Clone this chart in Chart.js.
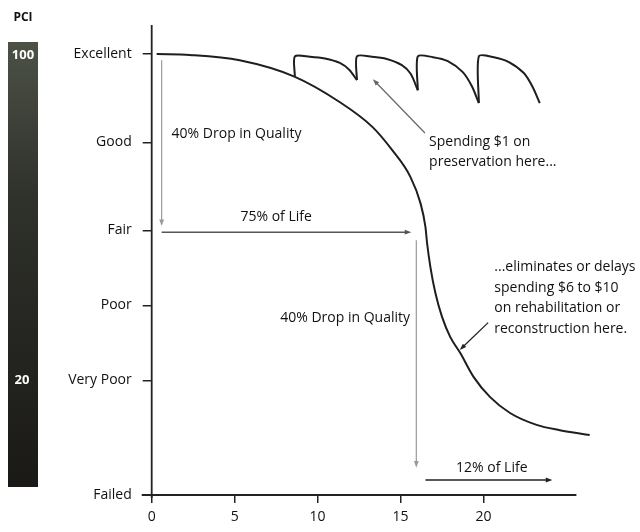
<!DOCTYPE html>
<html>
<head>
<meta charset="utf-8">
<script src="https://cdn.jsdelivr.net/npm/chart.js@4.4.1/dist/chart.umd.min.js"></script>
<style>
  html, body { margin: 0; padding: 0; background: #fff; }
  #wrap { width: 640px; height: 532px; position: relative; }
</style>
</head>
<body>
<div id="wrap"><canvas id="pciChart"></canvas></div>
<script>
// Pavement condition over the life of a road

// condition ratings on the y axis (PCI value -> label)
const ratingValues = [0, 26, 43, 60, 80, 100];
const ratingLabels = ['Failed', 'Very Poor', 'Poor', 'Fair', 'Good', 'Excellent'];
const yearTicks = [0, 5, 10, 15, 20];

// main deterioration curve (year, PCI)
const curveYears = [0.3, 2.3, 5.3, 8.6, 11.3, 13.3, 14.5, 15.6, 16.2, 16.5, 16.6, 16.8, 17.1, 17.5, 18.0, 18.6, 19.4, 20.4, 21.6, 23.2, 24.6, 26.4];
const curvePCI   = [100, 99.8, 98.6, 94.9, 89.2, 83.5, 78.2, 72.1, 66.2, 60.8, 57.1, 51.7, 45.8, 40.4, 35.8, 32.2, 26.8, 22.2, 18.6, 15.9, 14.7, 13.6];

// preservation treatments (each tooth restores the road to near-excellent)
const toothYears = [
    [8.63, 8.63, 9.53, 10.44, 11.34, 11.92, 12.37],
    [12.37, 12.37, 13.27, 14.17, 15.08, 15.62, 16.04],
    [16.04, 16.04, 16.95, 17.85, 18.75, 19.3, 19.72],
    [19.72, 19.72, 20.62, 21.53, 22.43, 22.97, 23.39]
];
const toothPCI = [
    [94.9, 99.5, 99.4, 99.0, 98.0, 96.4, 94.1],
    [94.1, 99.5, 99.4, 98.9, 97.5, 95.5, 91.8],
    [91.8, 99.5, 99.3, 98.4, 95.9, 92.7, 88.9],
    [88.9, 99.5, 99.3, 98.2, 95.7, 92.5, 88.9]
];

// arrows in chart units: [fromYear, fromPCI, toYear, toPCI, colour, width]
const arrows = [
    [0.6, 98.6, 0.6, 61.0, '#9a9a9a', 1.2],
    [0.6, 59.6, 15.65, 59.6, '#555', 1.4],
    [15.95, 57.8, 15.95, 6.2, '#9a9a9a', 1.2],
    [16.5, 3.4, 24.15, 3.4, '#222', 1.4],
    [16.47, 82.1, 13.33, 94.3, '#666', 1.2],
    [20.28, 39.1, 18.57, 32.9, '#222', 1.3]
];

// text notes in chart units: [year, PCI, align, lines]
const notes = [
    [1.2, 81.9, 'left', ['40% Drop in Quality']],
    [7.5, 63.1, 'center', ['75% of Life']],
    [15.57, 40.1, 'right', ['40% Drop in Quality']],
    [20.5, 6.1, 'center', ['12% of Life']],
    [16.72, 80.1, 'left', ['Spending $1 on', 'preservation here...']],
    [20.65, 51.7, 'left', ['...eliminates or delays', 'spending $6 to $10', 'on rehabilitation or', 'reconstruction here.']]
];

const FONT = '"Open Sans", "DejaVu Sans", sans-serif';

function toPoints(xs, ys) {
    return xs.map((x, i) => ({ x: x, y: ys[i] }));
}

function drawArrow(ctx, x1, y1, x2, y2, color, width) {
    const ang = Math.atan2(y2 - y1, x2 - x1);
    const head = 7;
    ctx.save();
    ctx.strokeStyle = color;
    ctx.fillStyle = color;
    ctx.lineWidth = width;
    ctx.beginPath();
    ctx.moveTo(x1, y1);
    ctx.lineTo(x2 - Math.cos(ang) * head * 0.8, y2 - Math.sin(ang) * head * 0.8);
    ctx.stroke();
    ctx.beginPath();
    ctx.moveTo(x2, y2);
    ctx.lineTo(x2 - head * Math.cos(ang - 0.35), y2 - head * Math.sin(ang - 0.35));
    ctx.lineTo(x2 - head * Math.cos(ang + 0.35), y2 - head * Math.sin(ang + 0.35));
    ctx.closePath();
    ctx.fill();
    ctx.restore();
}

// PCI scale bar at the far left
const pciBarPlugin = {
    id: 'pciBar',
    beforeDraw(chart) {
        const ctx = chart.ctx;
        const y = chart.scales.y;
        ctx.save();
        const g = ctx.createLinearGradient(0, 42, 0, 487);
        g.addColorStop(0, '#4c5146');
        g.addColorStop(0.35, '#2f312b');
        g.addColorStop(1, '#1a1916');
        ctx.fillStyle = g;
        ctx.fillRect(8, 42, 30, 445);
        ctx.fillStyle = '#111';
        ctx.font = 'bold 12px ' + FONT;
        ctx.textAlign = 'center';
        ctx.textBaseline = 'middle';
        ctx.fillText('PCI', 23, 18);
        ctx.fillStyle = '#fff';
        ctx.font = 'bold 13px ' + FONT;
        ctx.fillText('100', 23, y.getPixelForValue(100) + 1);
        ctx.fillText('20', 22, y.getPixelForValue(26));
        ctx.restore();
    }
};

// axis lines, arrows and notes
const notesPlugin = {
    id: 'notes',
    afterDraw(chart) {
        const ctx = chart.ctx;
        const xs = chart.scales.x;
        const ys = chart.scales.y;
        const px = v => xs.getPixelForValue(v);
        const py = v => ys.getPixelForValue(v);

        ctx.save();
        ctx.strokeStyle = '#222';
        ctx.lineWidth = 1.8;
        ctx.beginPath();
        ctx.moveTo(px(0), py(106.6));
        ctx.lineTo(px(0), py(-0.6));
        ctx.moveTo(px(-0.6), py(0));
        ctx.lineTo(px(25.6), py(0));
        ctx.stroke();
        ctx.restore();

        arrows.forEach(a => drawArrow(ctx, px(a[0]), py(a[1]), px(a[2]), py(a[3]), a[4], a[5]));

        ctx.save();
        ctx.fillStyle = '#111';
        ctx.font = '14px ' + FONT;
        ctx.textBaseline = 'middle';
        notes.forEach(n => {
            ctx.textAlign = n[2];
            n[3].forEach((line, i) => ctx.fillText(line, px(n[0]), py(n[1]) + i * 20.5));
        });
        ctx.restore();
    }
};

const datasets = [{
    data: toPoints(curveYears, curvePCI),
    borderColor: '#1e1e1e',
    borderWidth: 2,
    pointRadius: 0,
    showLine: true,
    cubicInterpolationMode: 'monotone'
}];
toothYears.forEach((xs, i) => {
    datasets.push({
        data: toPoints(xs, toothPCI[i]),
        borderColor: '#1e1e1e',
        borderWidth: 2,
        pointRadius: 0,
        showLine: true,
        tension: 0.25
    });
});

new Chart(document.getElementById('pciChart'), {
    type: 'scatter',
    data: { datasets: datasets },
    options: {
        responsive: true,
        maintainAspectRatio: false,
        animation: false,
        layout: { padding: { top: 25, right: 47, left: 0, bottom: 0 } },
        plugins: {
            legend: { display: false },
            tooltip: { enabled: false }
        },
        scales: {
            x: {
                type: 'linear',
                min: 0,
                max: 26.6,
                afterBuildTicks: scale => { scale.ticks = yearTicks.map(v => ({ value: v })); },
                afterFit: scale => { scale.height = 37; },
                border: { display: false },
                grid: { drawOnChartArea: false, tickLength: 8, color: '#222', lineWidth: 1.5 },
                ticks: { color: '#111', font: { family: FONT, size: 14 }, padding: 6 }
            },
            y: {
                type: 'linear',
                min: 0,
                max: 106.6,
                afterBuildTicks: scale => { scale.ticks = ratingValues.map(v => ({ value: v })); },
                afterFit: scale => { scale.width = 151.7; },
                border: { display: false },
                grid: { drawOnChartArea: false, tickLength: 9, color: '#222', lineWidth: 1.5 },
                ticks: {
                    color: '#111',
                    font: { family: FONT, size: 14 },
                    padding: 11,
                    callback: v => ratingLabels[ratingValues.indexOf(v)]
                }
            }
        }
    },
    plugins: [pciBarPlugin, notesPlugin]
});
</script>
</body>
</html>
